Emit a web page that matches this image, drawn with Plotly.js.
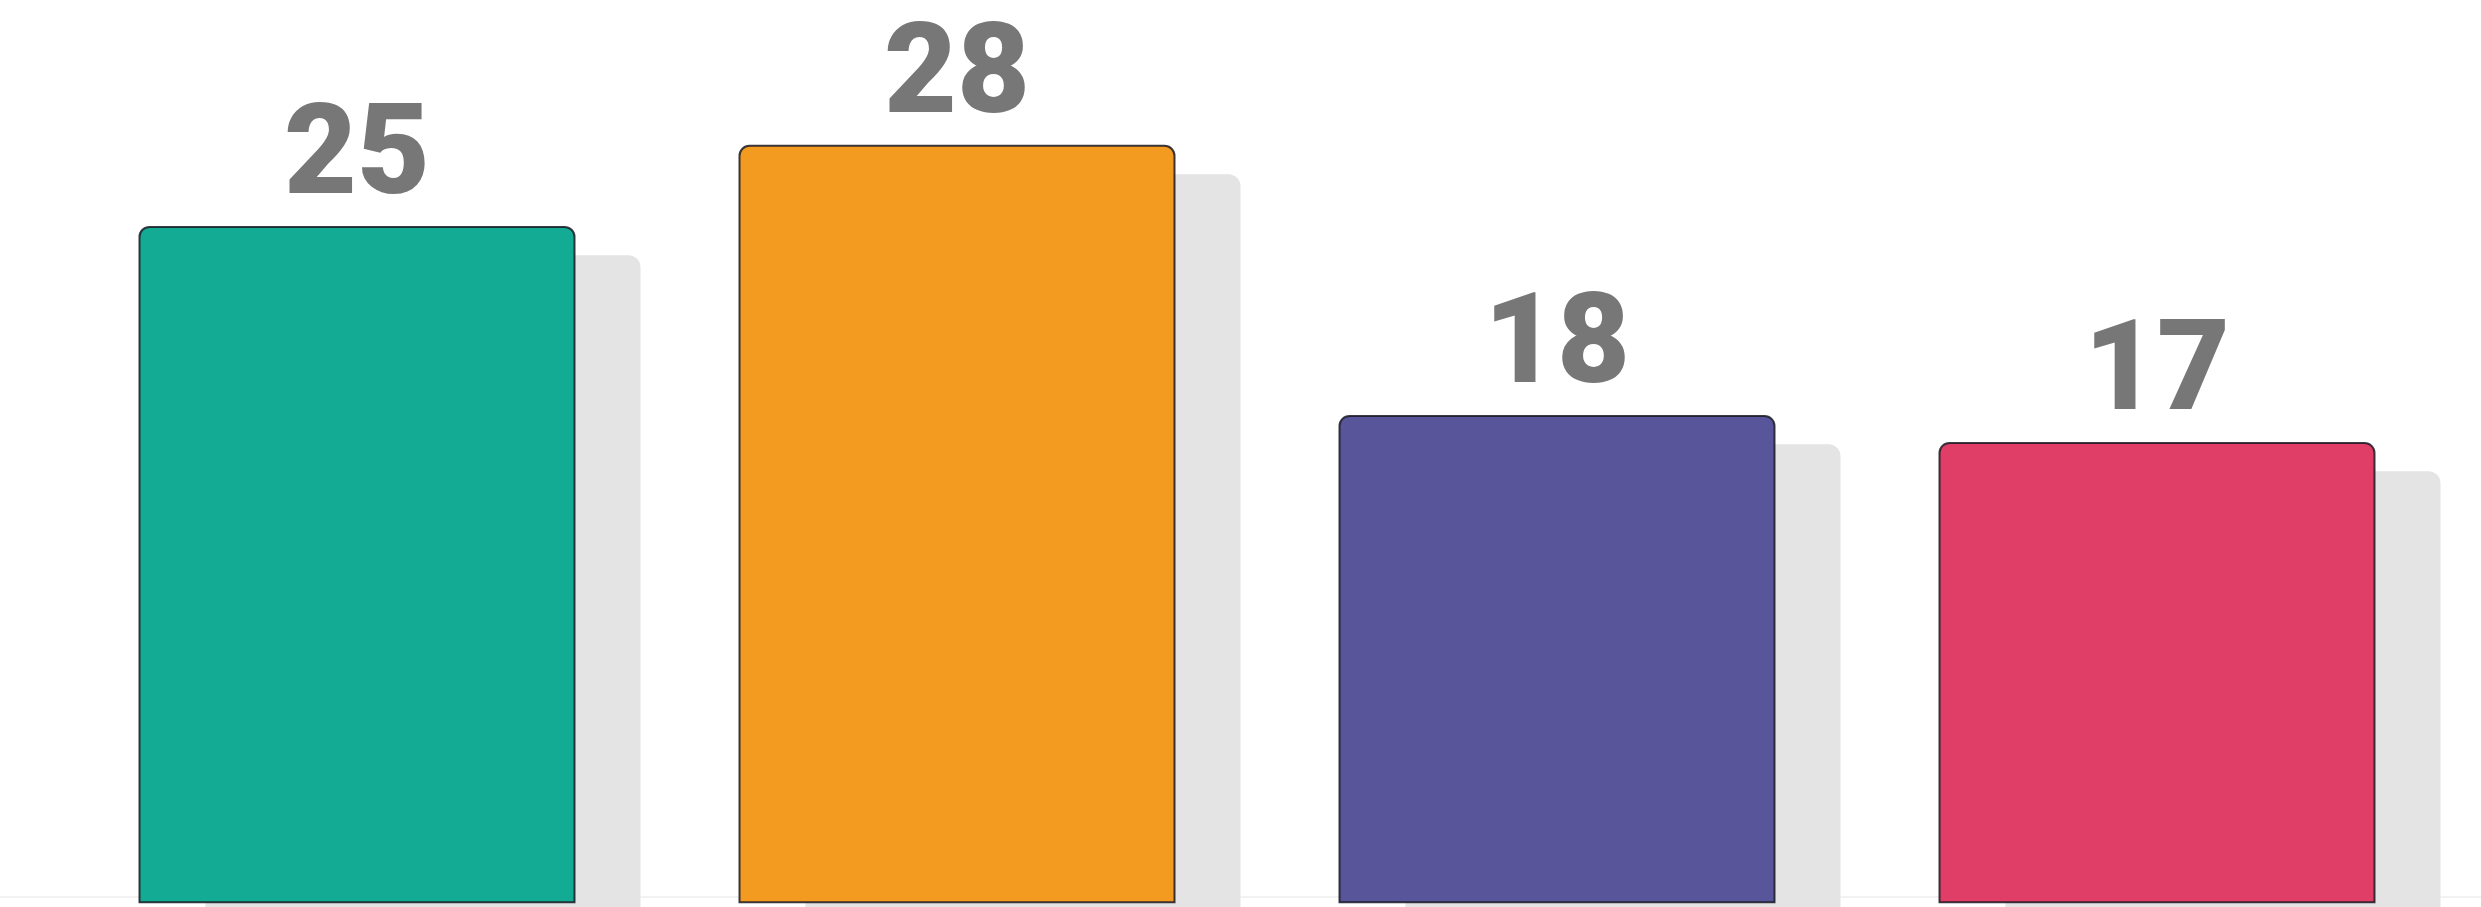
<!DOCTYPE html>
<html>
<head>
<meta charset="utf-8">
<script src="https://cdn.plot.ly/plotly-3.0.1.min.js"></script>
<style>
  html, body { margin: 0; padding: 0; background: #ffffff; }
  #chart { width: 2481px; height: 907px; }
</style>
</head>
<body>
<div id="chart"></div>
<script>
// ---- data ----
const categories = ["A", "B", "C", "D"];
const values = [25, 28, 18, 17];
const barColors = ["#14AB94", "#F39A20", "#58559A", "#E03E66"];
const labelTexts = ["25", "28", "18", "17"];

// ---- style ----
const BAR_W = 0.725;          // bar width in category units
const SHADOW_DX = 0.11;       // shadow shift to the right (category units)
const SHADOW_DROP = 1.05;     // shadow drop (value units)

const shadow = {
  type: "bar",
  x: categories,
  y: values,
  base: values.map(() => -SHADOW_DROP),
  width: BAR_W,
  offset: -BAR_W / 2 + SHADOW_DX,
  marker: { color: "#E4E4E4", cornerradius: 12, line: { width: 0 } },
  hoverinfo: "skip",
  showlegend: false
};

const bars = {
  type: "bar",
  x: categories,
  y: values,
  width: BAR_W,
  offset: -BAR_W / 2,
  marker: {
    color: barColors,
    cornerradius: 10,
    line: { color: "rgba(25,25,35,0.85)", width: 2 }
  },
  text: labelTexts,
  textposition: "outside",
  cliponaxis: false,
  textfont: { family: "Roboto, 'Open Sans', sans-serif", size: 126, color: "#777777", weight: 900 },
  showlegend: false
};

const layout = {
  width: 2481,
  height: 907,
  margin: { l: 0, r: 0, t: 0, b: 0, pad: 0 },
  paper_bgcolor: "#ffffff",
  plot_bgcolor: "#ffffff",
  barmode: "overlay",
  showlegend: false,
  xaxis: {
    type: "category",
    range: [-0.595, 3.54],
    showgrid: false, zeroline: false, showline: false, showticklabels: false, ticks: ""
  },
  yaxis: {
    range: [-0.18, 33.4],
    showgrid: false, zeroline: false, showline: false, showticklabels: false, ticks: ""
  },
  shapes: [{
    type: "line", xref: "paper", yref: "paper",
    x0: 0, x1: 1, y0: 0.011, y1: 0.011,
    line: { color: "#F2F2F2", width: 2 },
    layer: "below"
  }]
};

Plotly.newPlot("chart", [shadow, bars], layout, { staticPlot: true, displayModeBar: false });
</script>
</body>
</html>
